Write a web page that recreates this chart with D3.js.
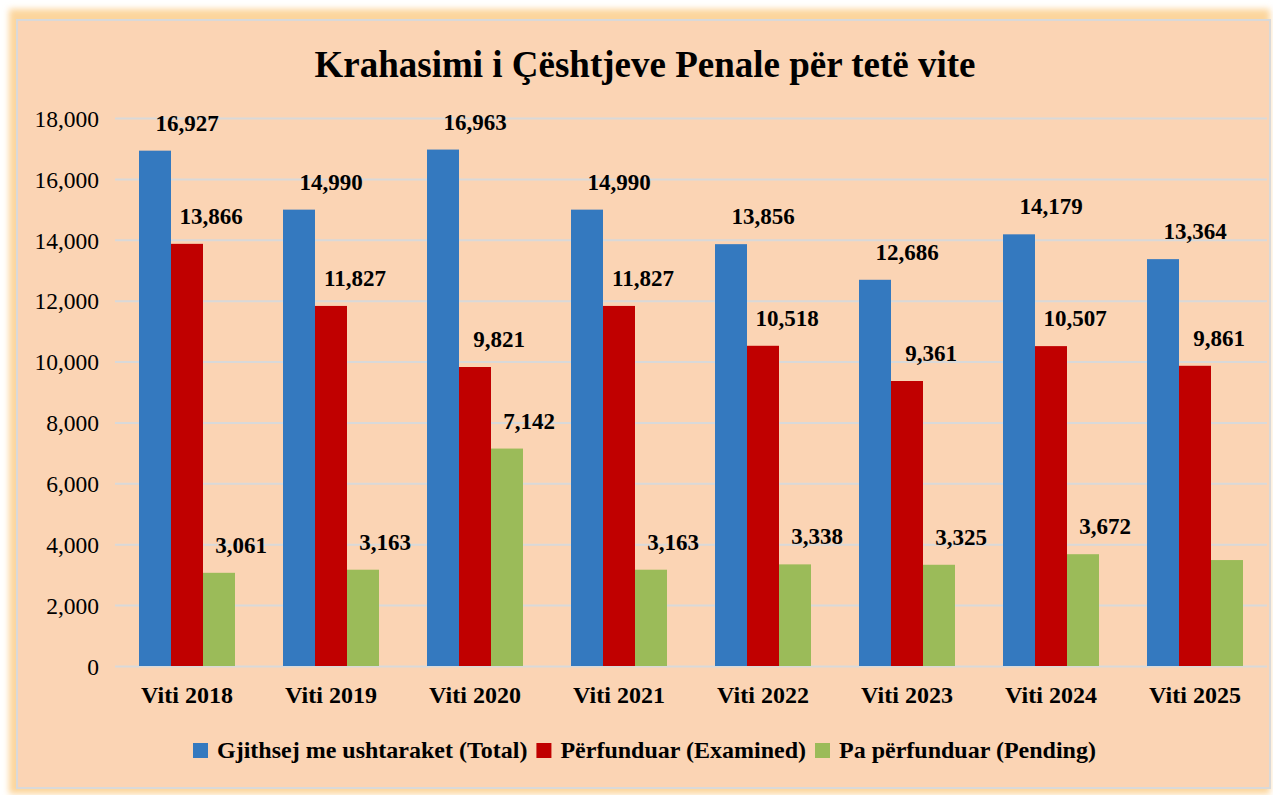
<!DOCTYPE html>
<html><head><meta charset="utf-8">
<script src="https://cdn.jsdelivr.net/npm/d3@7/dist/d3.min.js"></script>
</head><body style="margin:0">
<script>
const categories = ["Viti 2018","Viti 2019","Viti 2020","Viti 2021","Viti 2022","Viti 2023","Viti 2024","Viti 2025"];
const totalValues = [16927,14990,16963,14990,13856,12686,14179,13364];
const examinedValues = [13866,11827,9821,11827,10518,9361,10507,9861];
const pendingValues = [3061,3163,7142,3163,3338,3325,3672,3480];
const pendingLabelShown = [true,true,true,true,true,true,true,false];
const seriesNames = ["Gjithsej me ushtaraket (Total)","Përfunduar (Examined)","Pa përfunduar (Pending)"];
const yTicks = [0,2000,4000,6000,8000,10000,12000,14000,16000,18000];
const titleText = "Krahasimi i Çështjeve Penale për tetë vite";

const W = 1273, H = 795;
const colors = ["#3479BF","#C00000","#9BBB59"];
const serif = "Liberation Serif";

const svg = d3.select("body").append("svg").attr("width",W).attr("height",H).style("display","block");
const defs = svg.append("defs");
const f = defs.append("filter").attr("id","glow").attr("x","-5%").attr("y","-5%").attr("width","110%").attr("height","110%");
f.append("feGaussianBlur").attr("stdDeviation",3);

svg.append("rect").attr("x",9).attr("y",9).attr("width",W-12).attr("height",H-10)
  .attr("fill","#FCD59C").attr("filter","url(#glow)");
svg.append("rect").attr("x",17).attr("y",20).attr("width",1253).attr("height",768)
  .attr("fill","#FBD4B4").attr("stroke","#D9D9D9").attr("stroke-width",2);

const margin = {left:115, right:1267, top:118, bottom:666};
const x0 = d3.scaleBand().domain(categories).range([margin.left, margin.right]).paddingInner(1/3).paddingOuter(1/6);
const x1 = d3.scaleBand().domain([0,1,2]).range([0, x0.bandwidth()]);
const y = d3.scaleLinear().domain([0,18000]).range([margin.bottom, margin.top]);

function txt(sel, size, bold){
  sel.attr("font-size",size).attr("font-weight",bold?"bold":"normal").attr("fill","#000").style("font-family",serif);
}

// grid
const yAxis = d3.axisLeft(y).tickValues(yTicks).tickSize(-(margin.right-margin.left)).tickFormat(d3.format(","));
const ga = svg.append("g").attr("transform",`translate(${margin.left},0)`).call(yAxis);
ga.attr("font-family",null).attr("font-size",null);
ga.select(".domain").remove();
ga.selectAll(".tick line").attr("stroke","#D9D9D9").attr("stroke-width",2);
ga.selectAll(".tick text").attr("x",-16).attr("dy","0.35em").call(txt,23.5,false);

const series = [totalValues, examinedValues, pendingValues];
const labelDx = [32, 24, 22];
series.forEach((vals, s) => {
  const g = svg.append("g");
  g.selectAll("rect").data(vals).join("rect")
    .attr("x",(d,i)=>x0(categories[i])+x1(s))
    .attr("y",d=>y(d))
    .attr("width",x1.bandwidth())
    .attr("height",d=>y(0)-y(d))
    .attr("fill",colors[s]);
  g.selectAll("text").data(vals).join("text")
    .filter((d,i)=> s!==2 || pendingLabelShown[i])
    .attr("x",(d,i)=>x0(categories[i])+x1(s)+x1.bandwidth()/2+labelDx[s])
    .attr("y",d=>y(d)-20)
    .attr("text-anchor","middle")
    .call(txt,23,true)
    .text(d=>d3.format(",")(d));
});

// x axis labels
const xAxis = d3.axisBottom(x0).tickSize(0).tickPadding(0);
const gx = svg.append("g").attr("transform",`translate(0,${margin.bottom})`).call(xAxis);
gx.attr("font-family",null).attr("font-size",null);
gx.select(".domain").remove();
gx.selectAll(".tick text").attr("y",37).attr("dy",0).call(txt,24,true);

// title
svg.append("text").attr("x",645).attr("y",77).attr("text-anchor","middle")
  .call(txt,37,true).text(titleText);

// legend
const leg = svg.append("g");
let lx = 193;
seriesNames.forEach((n,i)=>{
  leg.append("rect").attr("x",lx).attr("y",743).attr("width",15).attr("height",15).attr("fill",colors[i]);
  const t = leg.append("text").attr("x",lx+24).attr("y",758).call(txt,24,true).text(n);
  lx = lx + 24 + t.node().getComputedTextLength() + 9;
});
</script>
</body></html>
